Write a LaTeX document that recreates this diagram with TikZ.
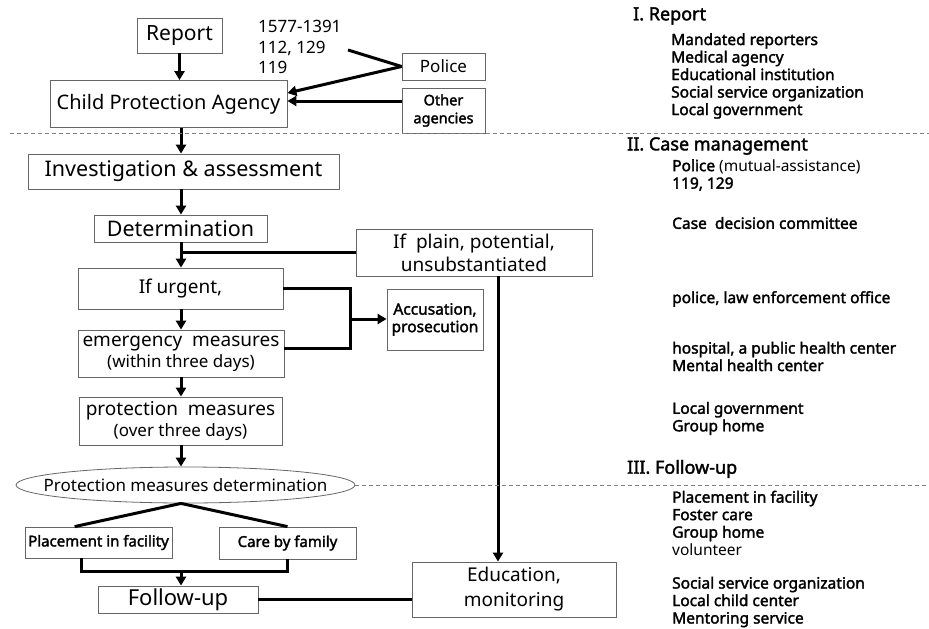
\documentclass[tikz,border=0pt]{standalone}
\usepackage{fontspec}
\setmainfont{Noto Sans}[BoldFont={Noto Sans}, BoldFeatures={FakeBold=2}]
\usetikzlibrary{arrows.meta, positioning, shapes.geometric, calc}

\begin{document}
\begin{tikzpicture}[
  x=1pt, y=-1pt,
  box/.style={draw=black!60, line width=0.8pt, inner sep=2pt, align=center},
  txtL/.style={font=\fontsize{21.5}{25}\selectfont},
  txtM/.style={font=\fontsize{19}{23}\selectfont},
  txtB/.style={font=\bfseries\fontsize{15}{17.5}\selectfont},
  arr/.style={-{Triangle[width=10pt,length=9pt]}, line width=3pt},
  link/.style={line width=3pt},
  sep/.style={gray, line width=0.6pt, dash pattern=on 4pt off 3pt},
  note/.style={anchor=west, inner sep=0pt, align=left, font=\bfseries\fontsize{15.5}{17.5}\selectfont},
  head/.style={anchor=west, inner sep=0pt, font=\bfseries\fontsize{18}{21}\selectfont}
]
\fill[white] (0,0) rectangle (929,629);
\useasboundingbox (0,0) rectangle (929,629);

\node[box, minimum width=85, minimum height=35, font=\fontsize{21}{25}\selectfont] (report) at (179.5,35.5) {Report};
\node[box, minimum width=237, minimum height=47, font=\fontsize{20}{24}\selectfont] (cpa) at (168.5,104) {Child Protection Agency};
\node[anchor=west, inner sep=0pt, align=left, font=\fontsize{17}{20.3}\selectfont] (nums) at (258,47) {1577-1391\\112, 129\\119};
\coordinate (numtip) at (348,50);
\node[box, minimum width=83, minimum height=27, font=\fontsize{17}{20}\selectfont] (police) at (443.5,66.5) {Police};
\node[box, minimum width=83, minimum height=45, font=\bfseries\fontsize{14.5}{18}\selectfont] (other) at (443.5,110.5) {Other\\agencies};

\node[box, txtL, minimum width=311, minimum height=35] (inv) at (183.5,171.5) {Investigation \& assessment};
\node[box, txtL, minimum width=173, minimum height=27] (det) at (180.5,228.5) {Determination};
\node[box, txtM, minimum width=236, minimum height=47] (plain) at (474,252.5) {If\ \ plain, potential,\\unsubstantiated};
\node[box, txtM, minimum width=205, minimum height=41] (urgent) at (180.5,288.5) {If urgent,};
\node[box, minimum width=96, minimum height=61, font=\bfseries\fontsize{15.5}{17.5}\selectfont] (acc) at (435,319.5) {Accusation,\\prosecution};
\node[box, txtM, minimum width=206, minimum height=47] (emerg) at (181,353.5) {emergency\ \ measures\\[-2pt]{\fontsize{17}{20}\selectfont(within three days)}};
\node[box, txtM, minimum width=203, minimum height=48] (prot) at (180.5,421) {protection\ \ measures\\[-2pt]{\fontsize{17}{20}\selectfont(over three days)}};
\node[ellipse, draw=black!60, line width=0.8pt, inner xsep=-40pt, inner ysep=0pt, minimum width=339, minimum height=36, font=\fontsize{17}{20}\selectfont] (pmd) at (185.5,485) {Protection measures determination};
\node[box, txtB, minimum width=147, minimum height=31] (place) at (98.5,542.5) {Placement in facility};
\node[box, txtB, minimum width=137, minimum height=32] (care) at (287.5,543) {Care by family};
\node[box, minimum width=160, minimum height=27, font=\fontsize{22}{26}\selectfont] (follow) at (178,599.5) {Follow-up};
\node[box, minimum width=204, minimum height=55, font=\fontsize{19}{25}\selectfont] (edu) at (514,589.5) {Education,\\monitoring};

\node[head] (h1) at (633,16) {I. Report};
\node[note] (n1) at (671,76) {Mandated reporters\\Medical agency\\Educational institution\\Social service organization\\Local government};
\node[head] (h2) at (627,146) {II. Case management};
\node[note] (n2) at (672,175) {Police {\mdseries(mutual-assistance)}\\119, 129};
\node[note] (n3) at (672,223) {Case\ \ decision committee};
\node[note] (n4) at (672,299) {police, law enforcement office};
\node[note] (n5) at (672,356.5) {hospital, a public health center\\Mental health center};
\node[note] (n6) at (672,418.5) {Local government\\Group home};
\node[head] (h3) at (627,469) {III. Follow-up};
\node[note] (n7) at (672,523) {Placement in facility\\Foster care\\Group home\\{\mdseries volunteer}};
\node[note] (n8) at (672,602) {Social service organization\\Local child center\\Mentoring service};

\coordinate (col) at (181,0);
\coordinate (brk) at (350,319);
\coordinate (vln) at (498,0);

\draw[arr] (report.south) -- (report.south |- cpa.north);
\draw[link] (numtip) -- (police.west);
\draw[arr] (police.west) -- ([yshift=11pt]cpa.east);
\draw[arr] (other.west |- 0,101) -- (cpa.east |- 0,101);
\draw[arr] (col |- cpa.south) -- (col |- inv.north);
\draw[arr] (col |- inv.south) -- (col |- det.north);
\draw[arr] (col |- det.south) -- (col |- urgent.north);
\draw[link] (plain.west) -- (col |- plain.west);
\draw[arr] (col |- urgent.south) -- (col |- emerg.north);
\draw[arr] (col |- emerg.south) -- (col |- prot.north);
\draw[arr] (col |- prot.south) -- (col |- pmd.north);
\draw[link] (urgent.east) -| (brk) |- ([yshift=5pt]emerg.east);
\draw[arr] (brk) -- (brk -| acc.west);
\draw[link] (col |- pmd.south) -- ([xshift=50pt]place.north west);
\draw[link] (col |- pmd.south) -- (care.north);
\draw[link] ([xshift=57pt]place.south west) -- ++(0,13) -| (care.south);
\draw[arr] (col |- 0,571) -- (col |- follow.north);
\draw[link] (follow.east) -- (follow.east -| edu.west);
\draw[arr] (vln |- plain.south) -- (vln |- edu.north);

\draw[sep] (10,133) -- (929,133);
\draw[sep] (pmd.east) -- (pmd.east -| 929,0);
\end{tikzpicture}
\end{document}
